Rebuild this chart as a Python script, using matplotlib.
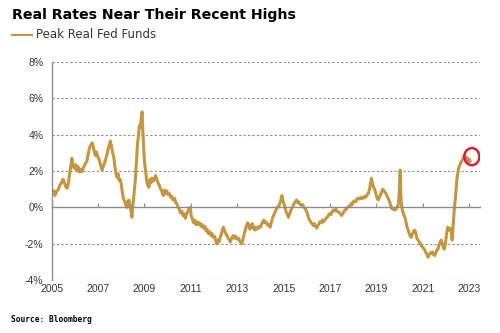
import matplotlib.pyplot as plt
from matplotlib.patches import Ellipse

# --- données : taux réel (fed funds) en %, dates en années décimales ---
annees = [
    2005.00, 2005.05, 2005.10, 2005.14, 2005.20, 2005.27, 2005.34, 2005.42, 2005.49, 2005.55,
    2005.62, 2005.67, 2005.72, 2005.78, 2005.83, 2005.87, 2005.92, 2005.97, 2006.03, 2006.08,
    2006.13, 2006.18, 2006.23, 2006.30, 2006.37, 2006.45, 2006.52, 2006.58, 2006.64, 2006.70,
    2006.74, 2006.79, 2006.84, 2006.88, 2006.93, 2006.98, 2007.03, 2007.08, 2007.13, 2007.17,
    2007.22, 2007.27, 2007.32, 2007.38, 2007.44, 2007.49, 2007.53, 2007.57, 2007.62, 2007.68,
    2007.72, 2007.77, 2007.82, 2007.86, 2007.90, 2007.95, 2007.99, 2008.04, 2008.08, 2008.12,
    2008.17, 2008.21, 2008.25, 2008.29, 2008.33, 2008.38, 2008.42, 2008.46, 2008.50, 2008.55,
    2008.60, 2008.65, 2008.70, 2008.74, 2008.78, 2008.82, 2008.86, 2008.90, 2008.93, 2008.97,
    2009.01, 2009.05, 2009.10, 2009.15, 2009.19, 2009.24, 2009.28, 2009.33, 2009.38, 2009.43,
    2009.48, 2009.54, 2009.59, 2009.64, 2009.68, 2009.73, 2009.78, 2009.82, 2009.87, 2009.92,
    2009.97, 2010.02, 2010.08, 2010.13, 2010.18, 2010.24, 2010.30, 2010.35, 2010.40, 2010.45,
    2010.50, 2010.55, 2010.61, 2010.66, 2010.71, 2010.76, 2010.82, 2010.88, 2010.93, 2010.97,
    2011.02, 2011.07, 2011.12, 2011.17, 2011.22, 2011.28, 2011.33, 2011.38, 2011.44, 2011.50,
    2011.55, 2011.61, 2011.66, 2011.71, 2011.76, 2011.82, 2011.87, 2011.92, 2011.97, 2012.03,
    2012.08, 2012.12, 2012.17, 2012.22, 2012.27, 2012.32, 2012.37, 2012.41, 2012.46, 2012.51,
    2012.56, 2012.61, 2012.66, 2012.70, 2012.75, 2012.80, 2012.84, 2012.89, 2012.94, 2013.00,
    2013.06, 2013.11, 2013.16, 2013.20, 2013.25, 2013.30, 2013.35, 2013.40, 2013.45, 2013.50,
    2013.55, 2013.60, 2013.65, 2013.70, 2013.75, 2013.80, 2013.86, 2013.93, 2014.00, 2014.05,
    2014.10, 2014.14, 2014.19, 2014.24, 2014.28, 2014.33, 2014.38, 2014.42, 2014.47, 2014.52,
    2014.57, 2014.62, 2014.67, 2014.71, 2014.76, 2014.81, 2014.86, 2014.90, 2014.93, 2014.97,
    2015.02, 2015.07, 2015.11, 2015.16, 2015.21, 2015.26, 2015.31, 2015.35, 2015.40, 2015.45,
    2015.50, 2015.56, 2015.61, 2015.66, 2015.72, 2015.78, 2015.83, 2015.88, 2015.93, 2015.98,
    2016.03, 2016.07, 2016.12, 2016.17, 2016.23, 2016.28, 2016.33, 2016.38, 2016.43, 2016.48,
    2016.53, 2016.57, 2016.63, 2016.68, 2016.73, 2016.78, 2016.83, 2016.88, 2016.93, 2016.98,
    2017.04, 2017.09, 2017.14, 2017.19, 2017.25, 2017.30, 2017.36, 2017.41, 2017.45, 2017.50,
    2017.55, 2017.60, 2017.65, 2017.70, 2017.76, 2017.81, 2017.86, 2017.91, 2017.96, 2018.00,
    2018.05, 2018.11, 2018.16, 2018.22, 2018.27, 2018.32, 2018.38, 2018.43, 2018.49, 2018.54,
    2018.60, 2018.65, 2018.70, 2018.74, 2018.79, 2018.83, 2018.88, 2018.94, 2018.99, 2019.04,
    2019.08, 2019.13, 2019.18, 2019.23, 2019.28, 2019.33, 2019.37, 2019.42, 2019.47, 2019.51,
    2019.56, 2019.61, 2019.66, 2019.71, 2019.76, 2019.80, 2019.85, 2019.90, 2019.94, 2019.98,
    2020.01, 2020.03, 2020.05, 2020.08, 2020.12, 2020.17, 2020.23, 2020.28, 2020.33, 2020.37,
    2020.42, 2020.47, 2020.51, 2020.56, 2020.61, 2020.66, 2020.71, 2020.75, 2020.80, 2020.85,
    2020.90, 2020.94, 2020.99, 2021.04, 2021.09, 2021.14, 2021.19, 2021.23, 2021.28, 2021.33,
    2021.37, 2021.42, 2021.47, 2021.52, 2021.57, 2021.61, 2021.66, 2021.71, 2021.76, 2021.80,
    2021.85, 2021.90, 2021.94, 2021.99, 2022.03, 2022.08, 2022.13, 2022.18, 2022.23, 2022.27,
    2022.30, 2022.34, 2022.37, 2022.41, 2022.44, 2022.47, 2022.51, 2022.56, 2022.61, 2022.66,
    2022.71, 2022.75, 2022.79, 2022.83, 2022.87, 2022.91, 2022.95, 2023.00, 2023.04,
]
taux_reel = [
    0.95, 0.80, 0.90, 0.65, 0.85, 0.95, 1.20, 1.35, 1.55, 1.35,
    1.10, 1.05, 1.35, 1.90, 2.40, 2.70, 2.30, 2.15, 2.35, 2.05,
    2.25, 1.95, 2.10, 1.95, 2.20, 2.40, 2.55, 3.00, 3.30, 3.45,
    3.55, 3.35, 3.05, 2.85, 3.05, 2.80, 2.70, 2.45, 2.25, 2.05,
    2.25, 2.40, 2.60, 2.90, 3.25, 3.45, 3.65, 3.40, 3.05, 2.75,
    2.30, 1.85, 1.65, 1.85, 1.50, 1.55, 1.35, 0.90, 0.55, 0.40,
    0.25, 0.10, 0.00, 0.35, 0.40, 0.05, -0.20, -0.55, 0.10, 0.75,
    1.40, 2.40, 3.50, 3.90, 4.50, 4.40, 4.90, 5.25, 4.20, 3.15,
    2.40, 2.00, 1.40, 1.20, 1.10, 1.55, 1.35, 1.60, 1.45, 1.55,
    1.75, 1.50, 1.35, 1.20, 1.05, 0.95, 0.75, 0.65, 0.95, 0.75,
    0.90, 0.70, 0.75, 0.55, 0.60, 0.40, 0.50, 0.25, 0.20, 0.00,
    -0.10, -0.30, -0.20, -0.45, -0.35, -0.60, -0.35, -0.20, -0.05, 0.00,
    -0.50, -0.65, -0.85, -0.70, -0.95, -0.80, -0.95, -0.85, -1.05, -0.95,
    -1.15, -1.05, -1.30, -1.20, -1.45, -1.35, -1.55, -1.45, -1.65, -1.60,
    -1.85, -2.00, -1.80, -1.90, -1.65, -1.45, -1.20, -1.10, -1.30, -1.45,
    -1.55, -1.70, -1.80, -1.90, -1.75, -1.60, -1.55, -1.70, -1.60, -1.75,
    -1.70, -1.85, -1.95, -2.00, -1.75, -1.45, -1.25, -1.00, -0.85, -0.95,
    -1.20, -1.05, -0.90, -1.15, -1.25, -1.10, -1.20, -1.05, -1.10, -0.95,
    -0.80, -0.70, -0.85, -0.80, -0.90, -1.00, -0.95, -1.10, -0.85, -0.60,
    -0.45, -0.30, -0.15, -0.05, 0.05, 0.10, 0.30, 0.50, 0.65, 0.35,
    0.20, -0.05, -0.25, -0.40, -0.55, -0.35, -0.20, -0.05, 0.05, 0.20,
    0.30, 0.40, 0.25, 0.30, 0.15, 0.10, 0.15, 0.00, -0.05, -0.20,
    -0.35, -0.55, -0.70, -0.80, -0.90, -1.00, -0.90, -1.05, -1.15, -1.00,
    -0.90, -0.80, -0.85, -0.70, -0.80, -0.70, -0.60, -0.55, -0.45, -0.35,
    -0.40, -0.25, -0.15, -0.20, -0.10, -0.20, -0.25, -0.30, -0.35, -0.45,
    -0.35, -0.25, -0.15, -0.10, 0.00, 0.05, 0.05, 0.20, 0.15, 0.30,
    0.35, 0.30, 0.45, 0.50, 0.45, 0.55, 0.50, 0.50, 0.60, 0.55,
    0.70, 0.75, 0.95, 1.25, 1.60, 1.35, 1.10, 0.95, 0.70, 0.50,
    0.40, 0.55, 0.70, 0.85, 1.00, 0.90, 0.85, 0.75, 0.60, 0.50,
    0.35, 0.15, -0.05, -0.10, -0.05, -0.15, -0.10, 0.05, 0.10, 0.60,
    1.40, 2.05, 0.90, 0.20, -0.15, -0.35, -0.55, -0.80, -1.10, -1.25,
    -1.45, -1.60, -1.65, -1.45, -1.30, -1.25, -1.45, -1.70, -1.80, -1.90,
    -2.00, -2.10, -2.20, -2.25, -2.35, -2.50, -2.60, -2.75, -2.60, -2.50,
    -2.55, -2.45, -2.60, -2.65, -2.50, -2.35, -2.30, -2.05, -1.90, -1.80,
    -2.00, -2.25, -2.30, -1.90, -1.45, -1.10, -1.25, -1.15, -1.30, -1.80,
    -1.20, -0.50, 0.00, 0.50, 1.00, 1.50, 1.85, 2.20, 2.35, 2.50,
    2.60, 2.75, 2.85, 2.70, 2.60, 2.75, 2.50, 2.65, 2.55,
]
graduations_y = [-4, -2, 0, 2, 4, 6, 8]
graduations_x = [2005, 2007, 2009, 2011, 2013, 2015, 2017, 2019, 2021, 2023]

OR = "#C4963F"
GRIS = "#8C8C8C"

fig = plt.figure(figsize=(5, 3.33), dpi=100)
ax = fig.add_axes([0.1034, 0.159, 0.857, 0.655])

ax.plot(annees, taux_reel, color=OR, lw=2.2, solid_joinstyle="round")

ax.set_xlim(2005, 2023.48)
ax.set_ylim(-4, 8)

# grille horizontale en pointillés, ligne du zéro pleine
for v in graduations_y:
    if v != 0:
        ax.axhline(v, color=GRIS, lw=0.8, ls=(0, (2, 2)), zorder=0)

for s in ["top", "right"]:
    ax.spines[s].set_visible(False)
ax.spines["left"].set_color(GRIS)
ax.spines["left"].set_linewidth(1.0)
ax.spines["bottom"].set_position(("data", 0))
ax.spines["bottom"].set_color(GRIS)
ax.spines["bottom"].set_linewidth(1.0)

ax.set_yticks(graduations_y)
ax.set_yticklabels([f"{v}%" for v in graduations_y])
ax.tick_params(axis="y", length=0, pad=6, labelsize=7.5, labelcolor="#333333")
ax.set_xticks(graduations_x)
ax.tick_params(axis="x", direction="in", length=3, color=GRIS, labelbottom=False)

# étiquettes des années en bas du graphe
ax2 = ax.secondary_xaxis("bottom")
ax2.set_xticks(graduations_x)
ax2.tick_params(length=0, pad=3, labelsize=7.5, labelcolor="#333333")
ax2.spines["bottom"].set_visible(False)

for lab in ax.get_yticklabels() + ax2.get_xticklabels():
    lab.set_family("Liberation Sans")

# cercle rouge sur le dernier point
ax.add_patch(Ellipse((2023.12, 2.79), 0.65, 0.94, fill=False, ec="#D0223A", lw=1.8, zorder=5))

fig.text(0.024, 0.955, "Real Rates Near Their Recent Highs", fontsize=10.2,
         fontweight="bold", family="DejaVu Sans", va="center")
fig.lines.append(plt.Line2D([0.024, 0.064], [0.895, 0.895], color=OR, lw=1.5, transform=fig.transFigure))
fig.text(0.072, 0.895, "Peak Real Fed Funds", fontsize=8.5, family="DejaVu Sans",
         color="#333333", va="center")
fig.text(0.022, 0.04, "Source: Bloomberg", fontsize=5.7, fontweight="bold",
         family="DejaVu Sans Mono", va="center")

fig.savefig("out.png", dpi=100)
